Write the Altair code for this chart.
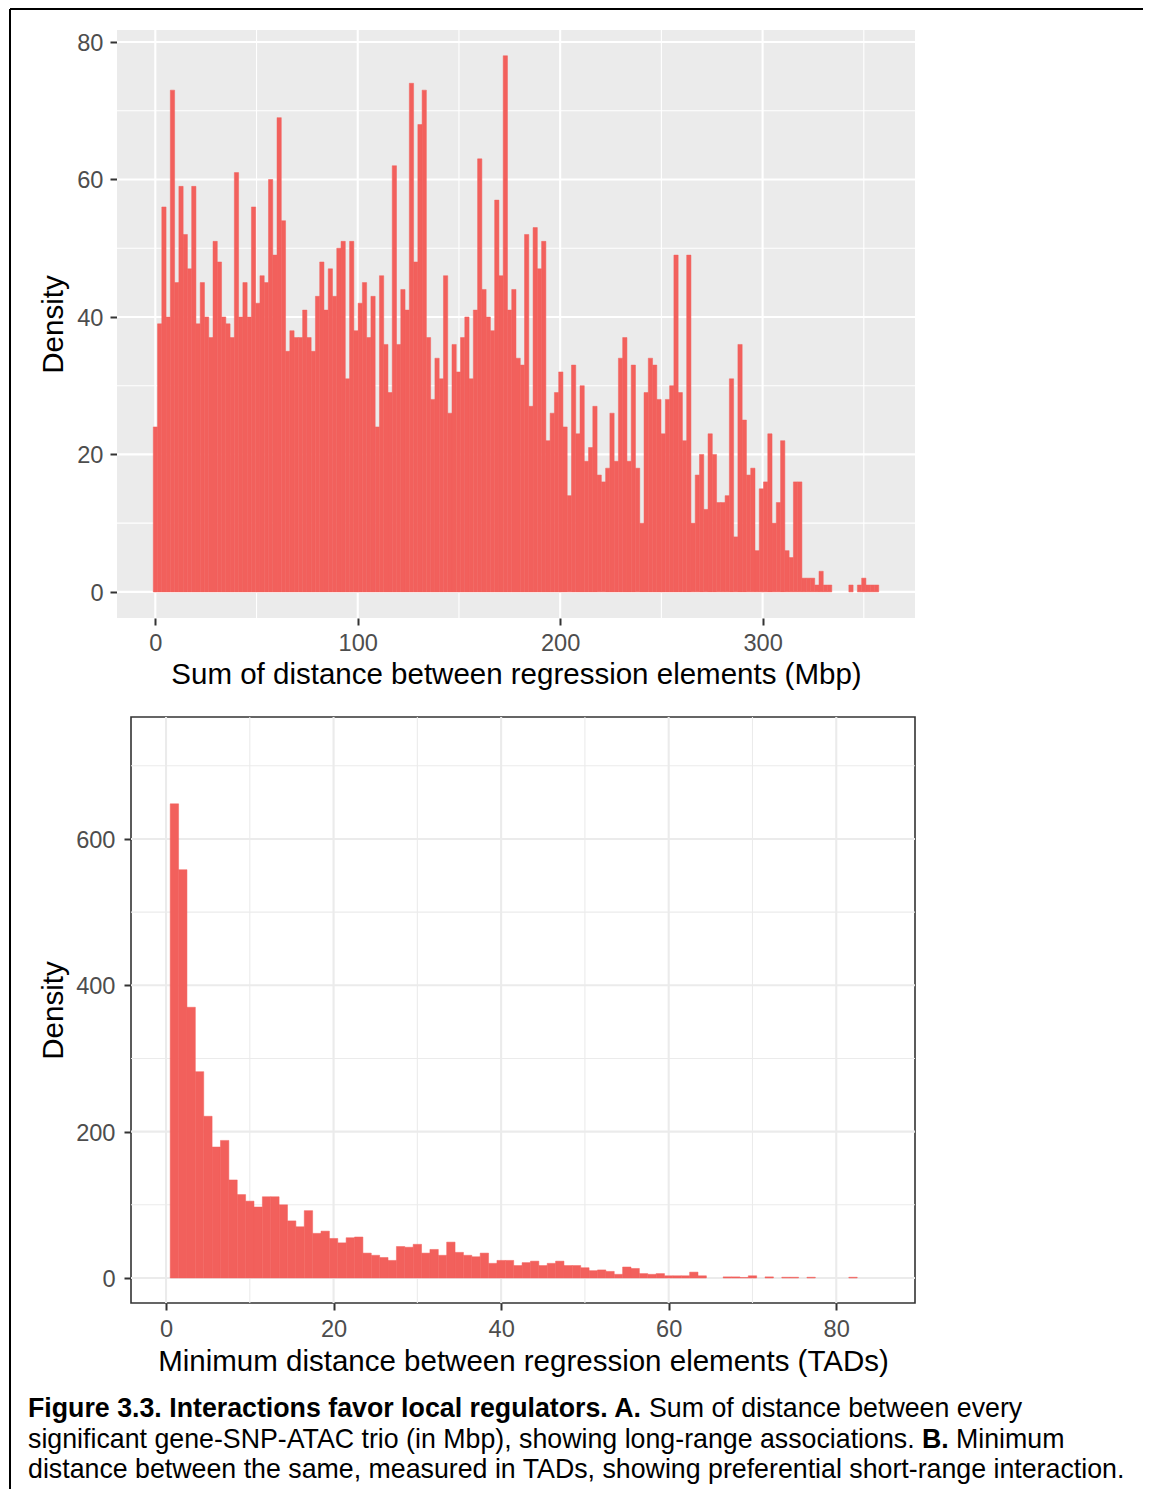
import altair as alt
import pandas as pd

# ---------------- data ----------------
# Panel A: sum of distance (Mbp), 170 bins
a_first_edge = -1.0
a_bin_width = 2.108
a_density = [24, 39, 56, 40, 73, 45, 59, 52, 47, 59,
             39, 45, 40, 37, 51, 48, 40, 39, 37, 61,
             40, 45, 40, 56, 42, 46, 45, 60, 49, 69,
             54, 35, 38, 37, 37, 41, 37, 35, 43, 48,
             41, 47, 43, 50, 51, 31, 51, 38, 42, 45,
             37, 43, 24, 46, 36, 29, 62, 36, 44, 41,
             74, 48, 68, 73, 37, 28, 34, 31, 46, 26,
             36, 32, 37, 40, 31, 41, 63, 44, 40, 38,
             57, 46, 78, 41, 44, 34, 33, 52, 27, 53,
             47, 51, 22, 26, 29, 32, 24, 14, 33, 23,
             30, 19, 21, 27, 17, 16, 18, 26, 19, 34,
             37, 19, 33, 18, 10, 29, 34, 33, 28, 23,
             28, 30, 49, 29, 22, 49, 10, 17, 20, 12,
             23, 20, 13, 13, 14, 31, 8, 36, 25, 17,
             18, 6, 15, 16, 23, 10, 13, 22, 6, 5,
             16, 16, 2, 2, 2, 1, 3, 1, 1, 0,
             0, 0, 0, 1, 0, 1, 2, 1, 1, 1]

# Panel B: minimum distance (TADs), bins centred on 1..82
b_first_center = 1
b_bin_width = 1.0
b_density = [648, 558, 370, 282, 221, 179, 188, 134, 114, 105,
             97, 111, 111, 100, 78, 70, 92, 61, 64, 54,
             48, 55, 56, 34, 31, 28, 24, 43, 42, 46,
             34, 39, 31, 49, 35, 31, 29, 34, 20, 24,
             24, 17, 21, 23, 17, 20, 23, 17, 17, 14,
             10, 11, 9, 5, 15, 13, 6, 5, 6, 3,
             3, 3, 8, 3, 0, 0, 1.5, 1.5, 0.7, 3,
             0, 1.5, 0, 1, 1, 0, 1, 0, 0, 0,
             0, 1]

a_x_major = [0, 100, 200, 300]
a_x_minor = [50, 150, 250, 350]
a_y_major = [0, 20, 40, 60, 80]
a_y_minor = [10, 30, 50, 70]
b_x_major = [0, 20, 40, 60, 80]
b_x_minor = [10, 30, 50, 70]
b_y_major = [0, 200, 400, 600]
b_y_minor = [100, 300, 500, 700]

a_x_title = "Sum of distance between regression elements (Mbp)"
b_x_title = "Minimum distance between regression elements (TADs)"
y_title = "Density"

caption_l1_bold = "Figure 3.3. Interactions favor local regulators. A."
caption_l1_reg = "Sum of distance between every"
caption_l2_reg = "significant gene-SNP-ATAC trio (in Mbp), showing long-range associations."
caption_l2_bold = "B."
caption_l2_reg2 = "Minimum"
caption_l3_reg = "distance between the same, measured in TADs, showing preferential short-range interaction."

# ---------------- styling / layout ----------------
FONT = "Liberation Sans"
BAR = "#F2605C"
TICK_FS = 23.6
TITLE_FS = 29.5
CAP_FS = 26.75
SW = 2.0          # border stroke width
M = 10            # overlap of border segments between stacked rows
PAGE = 8
X0 = 131          # common origin (page x) of all panels
A_LEFT, A_TOP, A_RIGHT, A_H = 117, 31, 915, 588
B_TOP, B_W, B_H = 719, 784, 586
ROW1 = 702        # page y where row 1 ends / row 2 begins
ROW2 = 1386       # page y where row 2 ends / caption begins
CAP_END = 1480
CAP_SHIFT = 11    # observed extra downward placement of the caption row
RIGHT_END = 1143
W = A_RIGHT - X0
A_SHIFT = A_LEFT - X0   # top panel starts left of the common origin

n_a = len(a_density)
df_a = pd.DataFrame({
    "start": [a_first_edge + i * a_bin_width for i in range(n_a)],
    "end": [a_first_edge + (i + 1) * a_bin_width for i in range(n_a)],
    "density": a_density,
})
n_b = len(b_density)
df_b = pd.DataFrame({
    "start": [b_first_center + i * b_bin_width - b_bin_width / 2 for i in range(n_b)],
    "end": [b_first_center + i * b_bin_width + b_bin_width / 2 for i in range(n_b)],
    "density": b_density,
})

a_last_edge = a_first_edge + n_a * a_bin_width
a_span = a_last_edge - a_first_edge
a_xs = alt.Scale(domain=[a_first_edge - 0.05 * a_span, a_last_edge + 0.05 * a_span],
                 range=[A_SHIFT, W], nice=False, zero=False)
a_ys = alt.Scale(domain=[-3.8, 81.75], nice=False, zero=False)
b_xs = alt.Scale(domain=[-4.18, 89.4], nice=False, zero=False)
b_ys = alt.Scale(domain=[-34.2, 766.7], nice=False, zero=False)

deco = pd.DataFrame({"d": [0]})


def hrule(x1, x2, y):
    return alt.Chart(deco).mark_rule(color="black", strokeWidth=SW).encode(
        x=alt.value(x1), x2=alt.value(x2), y=alt.value(y))


def vrule(x, y1, y2):
    return alt.Chart(deco).mark_rule(color="black", strokeWidth=SW).encode(
        x=alt.value(x), y=alt.value(y1), y2=alt.value(y2))


def x_axis(values, title, label_pad, title_y, title_x):
    return alt.Axis(values=values, title=title, grid=False, domain=False,
                    ticks=True, tickSize=7, tickWidth=2, tickColor="#333333",
                    labelFont=FONT, labelFontSize=TICK_FS, labelColor="#4D4D4D",
                    labelPadding=label_pad, labelFlush=False, labelOverlap=False,
                    titleFont=FONT, titleFontSize=TITLE_FS, titleFontWeight="normal",
                    titleColor="black", titleX=title_x, titleY=title_y,
                    titleBaseline="alphabetic", titleAlign="center")


def y_axis(values, label_pad, title_x, h, offset):
    return alt.Axis(values=values, title=y_title, grid=False, domain=False, offset=offset,
                    ticks=True, tickSize=7, tickWidth=2, tickColor="#333333",
                    labelFont=FONT, labelFontSize=TICK_FS, labelColor="#4D4D4D",
                    labelPadding=label_pad, labelBaseline="alphabetic", labelOffset=8.5,
                    labelFlush=False, labelOverlap=False,
                    titleFont=FONT, titleFontSize=TITLE_FS, titleFontWeight="normal",
                    titleColor="black", titleX=title_x, titleY=h / 2, titleAngle=270,
                    titleBaseline="alphabetic", titleAlign="center")


def panel(df, xs, ys, xax, yax, x_major, x_minor, y_major, y_minor, grid_color,
          bg_layers, rules, x_left, w, h, view):
    layers = list(bg_layers)
    for vals, gw in [(x_minor, 1.1), (x_major, 2.1)]:
        layers.append(alt.Chart(pd.DataFrame({"v": vals})).mark_rule(
            color=grid_color, strokeWidth=gw).encode(x=alt.X("v:Q", scale=xs, axis=xax)))
    for vals, gw in [(y_minor, 1.1), (y_major, 2.1)]:
        layers.append(alt.Chart(pd.DataFrame({"v": vals})).mark_rule(
            color=grid_color, strokeWidth=gw).encode(
            x=alt.value(x_left), x2=alt.value(w), y=alt.Y("v:Q", scale=ys, axis=yax)))
    bars = alt.Chart(df).transform_filter("datum.density > 0").mark_rect(
        color=BAR, stroke=BAR, strokeWidth=0.5).encode(
        x=alt.X("start:Q", scale=xs, axis=xax),
        x2="end:Q",
        y=alt.Y("density:Q", scale=ys, axis=yax),
        y2=alt.datum(0),
    )
    layers.append(bars)
    layers += rules
    return alt.layer(*layers).properties(width=w, height=h, view=view)


top_bg = alt.Chart(deco).mark_rect(color="#EBEBEB").encode(
    x=alt.value(A_SHIFT), x2=alt.value(W), y=alt.value(0), y2=alt.value(A_H))

top = panel(
    df_a, a_xs, a_ys,
    x_axis(a_x_major, a_x_title, 6, 65, (A_SHIFT + W) / 2),
    y_axis(a_y_major, 7, 62.5 - A_LEFT, A_H, -A_SHIFT),
    a_x_major, a_x_minor, a_y_major, a_y_minor, "white",
    [top_bg],
    [hrule(PAGE + SW - X0, RIGHT_END - X0, PAGE + SW - A_TOP),
     vrule(PAGE + SW - X0, PAGE + SW - A_TOP, ROW1 + M - A_TOP)],
    A_SHIFT, W, A_H, alt.ViewBackground(fillOpacity=0, strokeOpacity=0),
)

bottom = panel(
    df_b, b_xs, b_ys,
    x_axis(b_x_major, b_x_title, 7, 67, B_W / 2),
    y_axis(b_y_major, 9, 62.5 - X0, B_H, 0),
    b_x_major, b_x_minor, b_y_major, b_y_minor, "#EBEBEB",
    [],
    [vrule(PAGE + SW - X0, ROW1 - M - B_TOP, ROW2 + M - B_TOP)],
    0, B_W, B_H, alt.ViewBackground(fill="white", stroke="#333333", strokeWidth=1.6),
)


def cap_text(txt, px, py, bold=False):
    return alt.Chart(deco).mark_text(
        text=txt, font=FONT, fontSize=CAP_FS, fontWeight="bold" if bold else "normal",
        align="left", baseline="alphabetic", color="black").encode(
        x=alt.value(px - X0), y=alt.value(py - CAP_SHIFT - ROW2))


L1, L2, L3 = 1418, 1448.5, 1479
caption = alt.layer(
    vrule(PAGE + SW - X0, -M, CAP_END - ROW2),
    cap_text(caption_l1_bold, 28, L1, True),
    cap_text(caption_l1_reg, 649, L1),
    cap_text(caption_l2_reg, 28, L2),
    cap_text(caption_l2_bold, 922, L2, True),
    cap_text(caption_l2_reg2, 956, L2),
    cap_text(caption_l3_reg, 28, L3),
).properties(width=10, height=10,
             view=alt.ViewBackground(fillOpacity=0, strokeOpacity=0))

chart = alt.vconcat(top, bottom, caption, spacing=-(2 * M + 2 * SW)).properties(
    padding=0, background="white"
).configure(font=FONT)

chart.save("out.html", embed_options={"renderer": "svg", "actions": False})
